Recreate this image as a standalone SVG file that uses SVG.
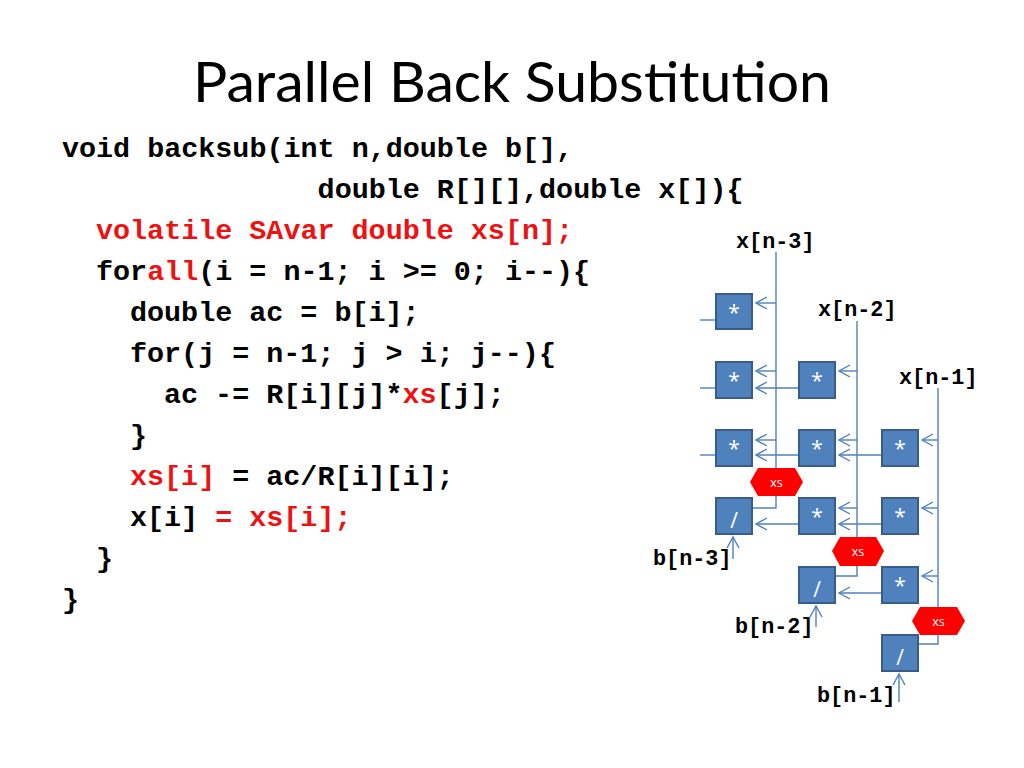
<svg xmlns="http://www.w3.org/2000/svg" width="1024" height="768" viewBox="0 0 1024 768">
<defs>
<style>
.title{font-family:Lato,"Open Sans","Liberation Sans",sans-serif;font-size:57px;fill:#000}
.code{font-family:"Liberation Mono","DejaVu Sans Mono",monospace;font-weight:bold;font-size:28.4px;fill:#000}
.r{fill:#ee1111}
.lbl{font-family:"Liberation Mono","DejaVu Sans Mono",monospace;font-weight:bold;font-size:21.8px;fill:#000}
.box{fill:#4f81bd;stroke:#385d8a;stroke-width:2}
.op{font-family:"Open Sans","Liberation Sans",sans-serif;font-size:21px;fill:#fff;text-anchor:middle}
.hex{fill:#ff0000;stroke:none}
.hx{font-family:"Open Sans","Liberation Sans",sans-serif;font-size:12.5px;fill:#fff;text-anchor:middle}
.ln{fill:none;stroke:#4f81bd;stroke-width:1.4}
.ar{fill:none;stroke:#4f81bd;stroke-width:1.4;marker-end:url(#ah)}
</style>
<marker id="ah" markerUnits="userSpaceOnUse" markerWidth="14" markerHeight="14" refX="11" refY="6" orient="auto" viewBox="0 0 14 12">
<path d="M0,0 L11,6 L0,12" fill="none" stroke="#4f81bd" stroke-width="1.4"/>
</marker>
</defs>
<rect width="1024" height="768" fill="#fff"/>
<text class="title" x="512" y="102" text-anchor="middle" textLength="638" lengthAdjust="spacingAndGlyphs">Parallel Back Substitution</text>
<g id="code">
<text class="code" x="62" y="157">void backsub(int n,double b[],</text>
<text class="code" x="317.6" y="198">double R[][],double x[]){</text>
<text class="code" x="96" y="239"><tspan class="r">volatile SAvar double xs[n];</tspan></text>
<text class="code" x="96" y="280">for<tspan class="r">all</tspan>(i = n-1; i &gt;= 0; i--){</text>
<text class="code" x="130" y="321">double ac = b[i];</text>
<text class="code" x="130" y="362">for(j = n-1; j &gt; i; j--){</text>
<text class="code" x="164" y="403">ac -= R[i][j]*<tspan class="r">xs</tspan>[j];</text>
<text class="code" x="130" y="444">}</text>
<text class="code" x="130" y="485"><tspan class="r">xs[i]</tspan> = ac/R[i][i];</text>
<text class="code" x="130" y="526">x[i] <tspan class="r">= xs[i];</tspan></text>
<text class="code" x="96" y="567">}</text>
<text class="code" x="62" y="608">}</text>
</g>
<g id="connectors">
<line class="ln" x1="776" y1="252" x2="776" y2="482"/>
<line class="ln" x1="857" y1="321" x2="857" y2="551"/>
<line class="ln" x1="938" y1="388" x2="938" y2="621"/>
<polyline class="ln" points="776,496 776,508 752,508"/>
<polyline class="ln" points="857,566 857,576 835,576"/>
<polyline class="ln" points="938,634 938,644 918,644"/>
<line class="ln" x1="700" y1="320" x2="716" y2="320"/>
<line class="ln" x1="700" y1="388" x2="716" y2="388"/>
<line class="ln" x1="700" y1="455" x2="716" y2="455"/>
<line class="ar" x1="776" y1="303" x2="756" y2="303"/>
<line class="ar" x1="776" y1="371" x2="756" y2="371"/>
<line class="ar" x1="857" y1="371" x2="839" y2="371"/>
<line class="ar" x1="799" y1="388" x2="756" y2="388"/>
<line class="ar" x1="776" y1="440" x2="756" y2="440"/>
<line class="ar" x1="857" y1="440" x2="839" y2="440"/>
<line class="ar" x1="938" y1="440" x2="922" y2="440"/>
<line class="ar" x1="799" y1="455" x2="756" y2="455"/>
<line class="ar" x1="882" y1="455" x2="839" y2="455"/>
<line class="ar" x1="857" y1="508" x2="839" y2="508"/>
<line class="ar" x1="938" y1="508" x2="922" y2="508"/>
<line class="ar" x1="799" y1="524" x2="756" y2="524"/>
<line class="ar" x1="882" y1="524" x2="839" y2="524"/>
<line class="ar" x1="938" y1="576" x2="922" y2="576"/>
<line class="ar" x1="882" y1="593" x2="839" y2="593"/>
<line class="ar" x1="733" y1="559" x2="733" y2="537"/>
<line class="ar" x1="816" y1="627" x2="816" y2="606"/>
<line class="ar" x1="899" y1="702" x2="899" y2="674"/>
</g>
<g id="m11"><rect class="box" x="716" y="294" width="36" height="35"/><text class="op" x="734" y="320">*</text></g>
<g id="m21"><rect class="box" x="716" y="362" width="36" height="36"/><text class="op" x="734" y="388">*</text></g>
<g id="m22"><rect class="box" x="799" y="362" width="36" height="36"/><text class="op" x="817" y="388">*</text></g>
<g id="m31"><rect class="box" x="716" y="430" width="36" height="36"/><text class="op" x="734" y="456">*</text></g>
<g id="m32"><rect class="box" x="799" y="430" width="36" height="36"/><text class="op" x="817" y="456">*</text></g>
<g id="m33"><rect class="box" x="882" y="430" width="36" height="36"/><text class="op" x="900" y="456">*</text></g>
<g id="d41"><rect class="box" x="716" y="498" width="36" height="36"/><text class="op" x="734" y="528">/</text></g>
<g id="m42"><rect class="box" x="799" y="498" width="36" height="36"/><text class="op" x="817" y="524">*</text></g>
<g id="m43"><rect class="box" x="882" y="498" width="36" height="36"/><text class="op" x="900" y="524">*</text></g>
<g id="d52"><rect class="box" x="799" y="567" width="36" height="36"/><text class="op" x="817" y="597">/</text></g>
<g id="m53"><rect class="box" x="882" y="567" width="36" height="36"/><text class="op" x="900" y="593">*</text></g>
<g id="d63"><rect class="box" x="882" y="635" width="36" height="36"/><text class="op" x="900" y="665">/</text></g>
<g id="xs1"><polygon class="hex" points="750,482 758,468 795,468 803,482 795,496 758,496"/><text class="hx" x="776.5" y="486.5">xs</text></g>
<g id="xs2"><polygon class="hex" points="832,551 840,537 876,537 884,551 876,566 840,566"/><text class="hx" x="858" y="555.5">xs</text></g>
<g id="xs3"><polygon class="hex" points="912,621 920,607 957,607 965,621 957,635 920,635"/><text class="hx" x="938.5" y="625.5">xs</text></g>
<g id="labels">
<text class="lbl" x="736" y="248">x[n-3]</text>
<text class="lbl" x="818" y="316">x[n-2]</text>
<text class="lbl" x="899" y="384">x[n-1]</text>
<text class="lbl" x="653" y="565">b[n-3]</text>
<text class="lbl" x="735" y="633">b[n-2]</text>
<text class="lbl" x="817" y="702">b[n-1]</text>
</g>
</svg>
